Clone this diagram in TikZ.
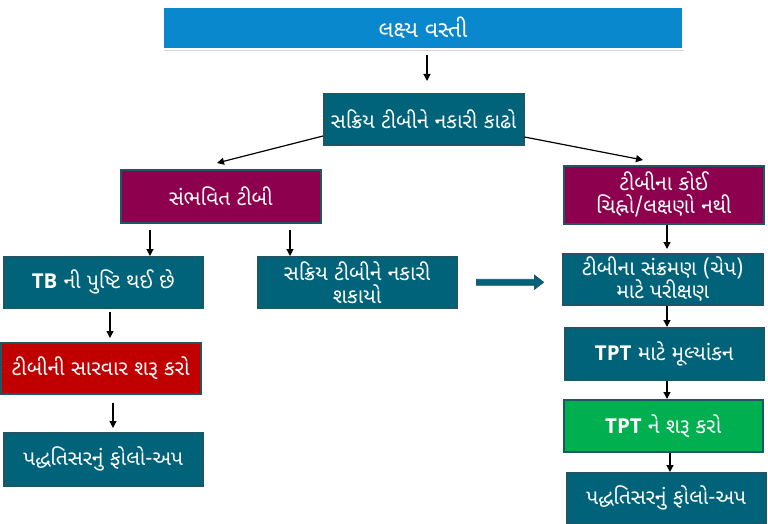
\documentclass[tikz,border=0pt]{standalone}
\usepackage{fontspec}
\setmainfont{Open Sans}
\newfontfamily\guj[Script=Gujarati]{Noto Sans Gujarati UI}
\newfontfamily\latb{Open Sans}
\usetikzlibrary{arrows.meta,shadows,calc}
\definecolor{cblue}{HTML}{0A88CE}
\definecolor{cteal}{HTML}{00637A}
\definecolor{cborder}{HTML}{1F5665}
\definecolor{cmaroon}{HTML}{8C004E}
\definecolor{cred}{HTML}{C00000}
\definecolor{cgreen}{HTML}{00B050}
\tikzset{
  x=1pt,y=-1pt,
  box/.style={draw=cborder, line width=1.5pt, text=white, align=center,
     inner sep=0pt, font=\guj\fontsize{21}{23}\selectfont},
  arr/.style={-{Triangle[length=7pt,width=7pt]}, line width=1.2pt, black},
}
\newcommand\TB[1]{{\latb\bfseries\fontsize{20.5}{23}\selectfont #1}}
\newcommand\bx[7]{% name, x1,y1,x2,y2, fill, text
  \node[box, fill=#6, minimum width={#4-#2}, minimum height={#5-#3}, anchor=north west] (#1) at (#2,#3) {#7};}
\begin{document}
\begin{tikzpicture}
\useasboundingbox (0,0) rectangle (768,524);
\node[draw=white, line width=2pt, fill=cblue, text=white, inner sep=0pt,
  minimum width=520, minimum height=42, anchor=north west,
  drop shadow={shadow xshift=1pt, shadow yshift=-2pt, opacity=0.35},
  font=\guj\fontsize{23}{25}\selectfont] (top) at (162,6) {લક્ષ્ય વસ્તી};
\bx{rule}{323}{93}{523}{144}{cteal}{સક્રિય ટીબીને નકારી કાઢો}
\bx{pos}{120}{169}{320}{222}{cmaroon}{સંભવિત ટીબી}
\bx{none}{563}{165}{763}{223}{cmaroon}{ટીબીના કોઈ\\ચિહ્નો/લક્ષણો નથી}
\bx{conf}{3}{256}{202}{307}{cteal}{\TB{TB} ની પુષ્ટિ થઈ છે}
\bx{ruled}{257}{256}{456}{307}{cteal}{સક્રિય ટીબીને નકારી\\શકાયો}
\bx{test}{562}{253}{762}{304}{cteal}{ટીબીના સંક્રમણ (ચેપ)\\માટે પરીક્ષણ}
\bx{treat}{0}{342}{200}{393}{cred}{ટીબીની સારવાર શરૂ કરો}
\bx{fu1}{3}{432}{202}{485}{cteal}{પદ્ધતિસરનું ફોલો-અપ}
\bx{tpt}{564}{327}{763}{379}{cteal}{\TB{TPT} માટે મૂલ્યાંકન}
\bx{start}{563}{399}{762}{451}{cgreen}{\TB{TPT} ને શરૂ કરો}
\bx{fu2}{566}{472}{765}{523}{cteal}{પદ્ધતિસરનું ફોલો-અપ}
% connectors
\draw[arr, shorten <=5pt, shorten >=12pt] (top.south -| 427,0) -- (rule.north -| 427,0);
\draw[arr] (rule.south west |- 0,136) -- (217,163);
\draw[arr] (rule.south east |- 0,137) -- (643,160);
\draw[arr, shorten <=6pt] (pos.south -| 150,0) -- (conf.north -| 150,0);
\draw[arr, shorten <=6pt] (pos.south -| 290,0) -- (ruled.north -| 290,0);
\draw[arr, shorten <=3pt, shorten >=4pt] (conf.south -| 110,0) -- (treat.north -| 110,0);
\draw[arr, shorten <=8pt, shorten >=4pt] (treat.south -| 113,0) -- (fu1.north -| 113,0);
\draw[arr, shorten >=4pt] (none.south -| 667,0) -- (test.north -| 667,0);
\draw[arr] (test.south -| 667,0) -- (tpt.north -| 667,0);
\draw[arr] (tpt.south -| 667,0) -- (start.north -| 667,0);
\draw[arr] (start.south -| 670,0) -- (fu2.north -| 670,0);
% thick block arrow
\coordinate (t1) at ($(ruled.east)+(19,0)$);
\coordinate (t2) at ($(ruled.east)+(86,0)$);
\draw[cborder, fill=cteal, line width=0.9pt, line join=miter]
  ($(t1)+(0,-3)$) -- ($(t2)+(-9,-3)$) -- ($(t2)+(-9,-7)$) -- (t2) --
  ($(t2)+(-9,7)$) -- ($(t2)+(-9,3)$) -- ($(t1)+(0,3)$) -- cycle;
\end{tikzpicture}
\end{document}
